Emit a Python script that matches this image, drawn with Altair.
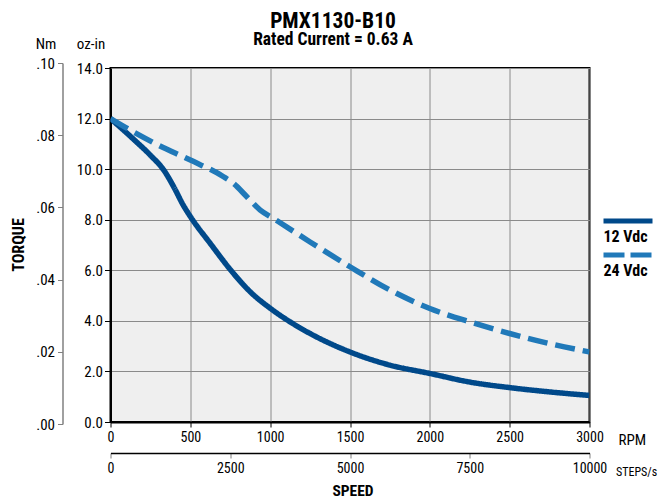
import altair as alt
import pandas as pd

FONT = "Liberation Sans Narrow, Roboto Condensed, DejaVu Sans Condensed, Roboto, sans-serif"

# 12 Vdc curve (RPM, oz-in)
rpm_12 = [0, 150, 250, 334, 396, 458, 506, 625, 771, 875, 1000, 1125, 1250, 1500, 1750, 2000, 2250, 2500, 2750, 3000]
tq_12 = [12.0, 11.15, 10.55, 9.96, 9.3, 8.55, 8.07, 7.06, 5.87, 5.15, 4.5, 3.96, 3.5, 2.77, 2.25, 1.92, 1.58, 1.36, 1.19, 1.05]
# 24 Vdc curve (RPM, oz-in)
rpm_24 = [0, 150, 300, 500, 708, 771, 854, 938, 1021, 1250, 1500, 1750, 2000, 2250, 2500, 2750, 3000]
tq_24 = [12.0, 11.45, 10.95, 10.36, 9.7, 9.43, 8.91, 8.38, 8.05, 7.12, 6.14, 5.22, 4.49, 3.96, 3.5, 3.1, 2.77]

series_names = ["12 Vdc", "24 Vdc"]
series_colors = ["#00498a", "#2079b9"]

rpm_ticks = [0, 500, 1000, 1500, 2000, 2500, 3000]
ozin_ticks = [0, 2, 4, 6, 8, 10, 12, 14]
nm_ticks = [0.0, 0.02, 0.04, 0.06, 0.08, 0.10]
steps_ticks = [0, 2500, 5000, 7500, 10000]

title_text = "PMX1130-B10"
subtitle_text = "Rated Current = 0.63 A"

W, H = 479, 354

df = pd.DataFrame(
    [{"rpm": r, "torque": t, "series": series_names[0]} for r, t in zip(rpm_12, tq_12)]
    + [{"rpm": r, "torque": t, "series": series_names[1]} for r, t in zip(rpm_24, tq_24)]
)

lines = alt.Chart(df).mark_line(strokeWidth=5.5, interpolate="monotone", clip=True).encode(
    x=alt.X("rpm:Q", scale=alt.Scale(domain=[0, 3000], nice=False),
            axis=alt.Axis(values=rpm_ticks, format="d", orient="bottom", grid=True, gridColor="#8a8a8a",
                          gridWidth=1, domainColor="black", domainWidth=2, tickColor="black",
                          tickSize=5, labelFontSize=14, labelPadding=3, labelColor="black",
                          labelFlush=False, labelFont=FONT, title="RPM", titleFont=FONT,
                          titleFontSize=15, titleFontWeight="normal", titleX=507.5, titleY=22,
                          titleAlign="left", titleBaseline="alphabetic", titleColor="black")),
    y=alt.Y("torque:Q", scale=alt.Scale(domain=[0, 14], nice=False),
            axis=alt.Axis(values=ozin_ticks, format=".1f", orient="left", grid=True,
                          gridColor="#8a8a8a", gridWidth=1, domainColor="black", domainWidth=2,
                          tickColor="black", tickSize=6, labelFontSize=15, labelPadding=2,
                          labelColor="black", labelFlush=False, labelFont=FONT, title="oz-in",
                          titleFont=FONT, titleFontSize=15, titleFontWeight="normal", titleAngle=0,
                          titleX=-20, titleY=-25, titleAlign="center", titleBaseline="middle",
                          titleColor="black")),
    color=alt.Color("series:N", scale=alt.Scale(domain=series_names, range=series_colors), legend=None),
    strokeDash=alt.StrokeDash("series:N", scale=alt.Scale(domain=series_names, range=[[1, 0], [20, 8]]),
                              legend=None),
)

nm_df = pd.DataFrame({"nm": [nm_ticks[0], nm_ticks[-1]]})
nm_layer = alt.Chart(nm_df).mark_point(opacity=0).encode(
    y=alt.Y("nm:Q", scale=alt.Scale(domain=[0, 0.1], range=[356, -5], nice=False),
            axis=alt.Axis(values=nm_ticks, orient="left", offset=48,
                          labelExpr="replace(format(datum.value, '.2f'), '0.', '.')",
                          grid=False, domainColor="#808080", domainWidth=1.5, tickColor="#808080",
                          tickSize=5, labelFontSize=15, labelPadding=3, labelColor="black",
                          labelFlush=False, labelFont=FONT, title="Nm", titleFont=FONT,
                          titleFontSize=15, titleFontWeight="normal", titleAngle=0, titleX=-17,
                          titleY=-25, titleAlign="center", titleBaseline="middle", titleColor="black")),
)

steps_df = pd.DataFrame({"steps": [steps_ticks[0], steps_ticks[-1]]})
steps_layer = alt.Chart(steps_df).mark_point(opacity=0).encode(
    x=alt.X("steps:Q", scale=alt.Scale(domain=[0, 10000], nice=False),
            axis=alt.Axis(values=steps_ticks, format="d", orient="bottom", offset=31, grid=False,
                          domainColor="black", domainWidth=1.5, tickColor="#808080", tickSize=5,
                          labelFontSize=14, labelPadding=3, labelColor="black", labelFlush=False,
                          labelFont=FONT, title="STEPS/s", titleFont=FONT, titleFontSize=12,
                          titleFontWeight="normal", titleX=505, titleY=22, titleAlign="left",
                          titleBaseline="alphabetic", titleColor="black")),
)

def label(text, x, y, size, weight="bold", align="center", angle=0, baseline="alphabetic"):
    return alt.Chart(pd.DataFrame({"t": [text]})).mark_text(
        align=align, baseline=baseline, font=FONT, fontSize=size, fontWeight=weight,
        color="black", angle=angle
    ).encode(x=alt.value(x), y=alt.value(y), text="t:N")

legend_solid = alt.Chart(pd.DataFrame({"s": [series_names[0]]})).mark_rule(
    strokeWidth=5, color=series_colors[0]
).encode(x=alt.value(493), x2=alt.value(542), y=alt.value(153))
legend_dash = alt.Chart(pd.DataFrame({"s": [series_names[1]]})).mark_rule(
    strokeWidth=5, color=series_colors[1], strokeDash=[21, 6]
).encode(x=alt.value(493), x2=alt.value(542), y=alt.value(187))
legend_t1 = label(series_names[0], 493, 174, 16, align="left")
legend_t2 = label(series_names[1], 493, 208, 16, align="left")

torque_lbl = label("TORQUE", -91.5, 177, 16, angle=270, baseline="middle")
speed_lbl = label("SPEED", 242.5, 428, 15.5)
title_lbl = label(title_text, 222.5, -40.5, 21.5)
subtitle_lbl = label(subtitle_text, 222.5, -23, 17.5)

chart = alt.layer(
    lines, nm_layer, steps_layer, legend_solid, legend_dash, legend_t1, legend_t2,
    torque_lbl, speed_lbl, title_lbl, subtitle_lbl
).resolve_scale(x="independent", y="independent").properties(
    width=W, height=H,
    autosize=alt.AutoSizeParams(type="none"),
    padding={"left": 102.5, "top": 60, "right": 70, "bottom": 88},
    background="white",
).configure_view(fill="#efefef", stroke="black", strokeWidth=2)

chart.save("out.html", embed_options={"renderer": "svg", "actions": False})
